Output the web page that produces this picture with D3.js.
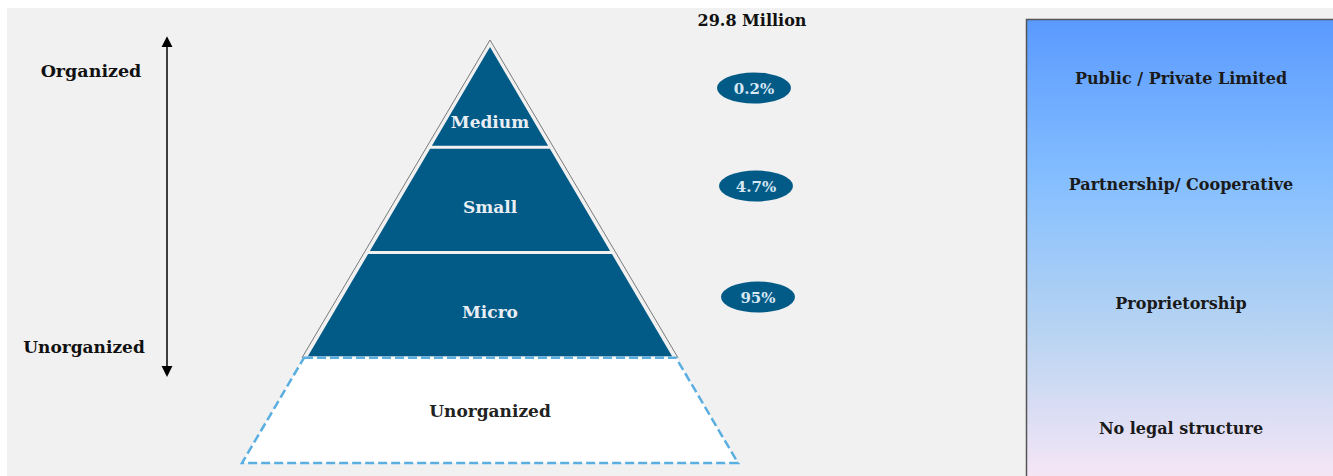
<!DOCTYPE html>
<html>
<head>
<meta charset="utf-8">
<script src="https://cdn.jsdelivr.net/npm/d3@7"></script>
<style>
  body { margin: 0; background: #ffffff; }
  svg text { font-family: "DejaVu Serif", "Liberation Serif", serif; font-weight: bold; }
</style>
</head>
<body>
<div id="chart"></div>
<script>
// segmenty pyramidy (shora dolu)
var segments = ["Medium", "Small", "Micro", "Unorganized"];
var shares = ["0.2%", "4.7%", "95%"];
var total = "29.8 Million";
var legalForms = ["Public / Private Limited", "Partnership/ Cooperative", "Proprietorship", "No legal structure"];
var axisEnds = ["Organized", "Unorganized"];

var width = 1333, height = 476;
var blue = "#025a87";

var svg = d3.select("#chart")
	.append("svg")
	.attr("width", width)
	.attr("height", height);

// sede pozadi
svg.append("rect")
	.attr("x", 7).attr("y", 8)
	.attr("width", width - 7).attr("height", height - 8)
	.attr("fill", "#f1f1f1");

// gradient pro pravy panel
var defs = svg.append("defs");
var grad = defs.append("linearGradient")
	.attr("id", "legalGrad")
	.attr("x1", 0).attr("y1", 0).attr("x2", 0).attr("y2", 1);
grad.append("stop").attr("offset", "0%").attr("stop-color", "#5a9aff");
grad.append("stop").attr("offset", "35%").attr("stop-color", "#86bfff");
grad.append("stop").attr("offset", "65%").attr("stop-color", "#b5d3f2");
grad.append("stop").attr("offset", "100%").attr("stop-color", "#fbe7f6");

// pyramida - skaly
var apexX = 490, apexY = 42, baseY = 463;
var y = d3.scaleLinear()
	.domain([0, segments.length])
	.range([apexY, baseY]);
var halfW = d3.scaleLinear()
	.domain([apexY, baseY])
	.range([0, 248]);

function trap(y0, y1) {
	var a = halfW(y0), b = halfW(y1);
	return [
		[apexX - a, y0], [apexX + a, y0],
		[apexX + b, y1], [apexX - b, y1]
	];
}

var line = d3.line().curve(d3.curveLinearClosed);

// dolni neorganizovany segment (carkovany)
var last = segments.length - 1;
svg.append("path")
	.attr("d", line(trap(y(last), y(last + 1))))
	.attr("fill", "#ffffff")
	.attr("stroke", "#5aaee0")
	.attr("stroke-width", 2.5)
	.attr("stroke-dasharray", "9,4");

// obrys trojuhelniku
svg.append("path")
	.attr("d", d3.line()([[apexX - halfW(y(last)) - 2, y(last)], [apexX, apexY - 2], [apexX + halfW(y(last)) + 2, y(last)]]))
	.attr("fill", "none")
	.attr("stroke", "#7a7a7a")
	.attr("stroke-width", 1);

// modre segmenty
svg.selectAll(".band")
	.data(segments.slice(0, last))
	.enter()
	.append("path")
	.attr("class", "band")
	.attr("d", function(d, i) {
		var y0 = y(i) + (i === 0 ? 5 : 1.5), y1 = y(i + 1) - 1.5;
		var a = Math.max(halfW(y0) - 3, 0), b = halfW(y1) - 3;
		return line([[apexX - a, y0], [apexX + a, y0], [apexX + b, y1], [apexX - b, y1]]);
	})
	.attr("fill", blue);

// popisky segmentu
svg.selectAll(".segLabel")
	.data(segments)
	.enter()
	.append("text")
	.attr("class", "segLabel")
	.attr("x", apexX)
	.attr("y", function(d, i) {
		var f = i === 0 ? 0.76 : (i === last ? 0.51 : 0.57);
		return y(i + f) + 6;
	})
	.attr("text-anchor", "middle")
	.attr("fill", function(d, i) { return i < last ? "#e8eef4" : "#222222"; })
	.style("font-size", "17px")
	.text(function(d) { return d; });

// celkovy pocet
svg.append("text")
	.attr("x", 752).attr("y", 26)
	.attr("text-anchor", "middle")
	.attr("fill", "#111")
	.style("font-size", "16px")
	.text(total);

// elipsy s podily
var shareY = d3.scaleOrdinal()
	.domain(shares)
	.range([88, 186, 297]);

var ell = svg.selectAll(".share")
	.data(shares)
	.enter()
	.append("g")
	.attr("class", "share")
	.attr("transform", function(d, i) { return "translate(" + (754 + i * 2) + "," + shareY(d) + ")"; });
ell.append("ellipse")
	.attr("rx", 37).attr("ry", 15.5)
	.attr("fill", blue);
ell.append("text")
	.attr("y", 5.5)
	.attr("text-anchor", "middle")
	.attr("fill", "#d6e8f3")
	.style("font-size", "15px")
	.text(function(d) { return d; });

// sipka Organized / Unorganized
defs.append("marker")
	.attr("id", "head")
	.attr("viewBox", "0 0 10 10")
	.attr("refX", 3).attr("refY", 5)
	.attr("markerWidth", 7.5).attr("markerHeight", 7.5)
	.attr("orient", "auto-start-reverse")
	.append("path")
	.attr("d", "M0,0 L10,5 L0,10 z")
	.attr("fill", "#000");

svg.append("line")
	.attr("x1", 167).attr("y1", 44)
	.attr("x2", 167).attr("y2", 369)
	.attr("stroke", "#000")
	.attr("stroke-width", 1.5)
	.attr("marker-start", "url(#head)")
	.attr("marker-end", "url(#head)");

svg.selectAll(".axisEnd")
	.data(axisEnds)
	.enter()
	.append("text")
	.attr("class", "axisEnd")
	.attr("x", function(d, i) { return i === 0 ? 91 : 84; })
	.attr("y", function(d, i) { return i === 0 ? 77 : 353; })
	.attr("text-anchor", "middle")
	.attr("fill", "#111")
	.style("font-size", function(d, i) { return i === 0 ? "17.5px" : "17px"; })
	.text(function(d) { return d; });

// pravy panel - pravni forma
svg.append("rect")
	.attr("x", 1026.5).attr("y", 19.5)
	.attr("width", 320).attr("height", 470)
	.attr("fill", "url(#legalGrad)")
	.attr("stroke", "#555")
	.attr("stroke-width", 1.5);

var ly = d3.scaleOrdinal()
	.domain(legalForms)
	.range([78, 184, 303, 428]);

svg.selectAll(".legal")
	.data(legalForms)
	.enter()
	.append("text")
	.attr("class", "legal")
	.attr("x", 1181)
	.attr("y", function(d) { return ly(d) + 6; })
	.attr("text-anchor", "middle")
	.attr("fill", "#1a1a1a")
	.style("font-size", "16px")
	.text(function(d) { return d; });
</script>
</body>
</html>
